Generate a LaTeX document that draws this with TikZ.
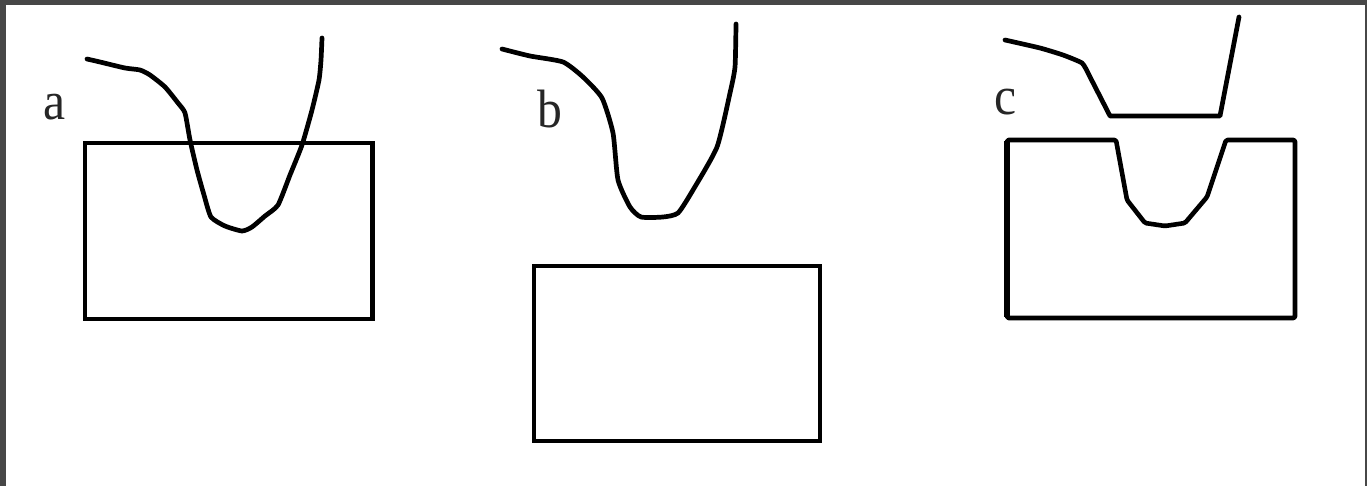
\documentclass[tikz,border=0pt]{standalone}
\usepackage{fontspec}
\setmainfont{Liberation Serif}
\tikzset{
  ink/.style={draw=black,line width=4.7pt,line join=round,line cap=round},
  box/.style={draw=black,line width=4.6pt,line join=miter},
  letter/.style={inner sep=0pt,anchor=base,font=\fontsize{54}{56}\selectfont,text=black!85,xscale=.92},
  edgebar/.style={fill=black!72,draw=none}
}
\begin{document}
\begin{tikzpicture}[x=1pt,y=-1pt]
\useasboundingbox (0,0) rectangle (1367,486);
\fill[white] (0,0) rectangle (1367,486);
\fill[edgebar] (0,0) rectangle (1367,5);
\fill[edgebar] (0,0) rectangle (6,486);
\fill[edgebar] (1365,0) rectangle (1367,486);
% panel a
\draw[box] (85,143) rectangle (372.5,319);
\draw[ink] plot[smooth,tension=.35] coordinates {(87,59) (100,62) (125,68) (140,70) (150,75) (165,87) (178,103) (185,113) (190,140) (197,170) (204,195) (211,217) (225,226) (242,231) (252,227) (265,216) (278,205) (290,175) (302,145) (312,110) (319,80) (321,60) (322,38)};
\node[letter] (la) at (55,120) {a};
% panel b
\draw[box] (534,266) rectangle (820,441);
\draw[ink] plot[smooth,tension=.35] coordinates {(502,49) (530,56) (563,62) (583,77) (602,98) (613,133) (618,180) (630,207) (641,217) (663,217) (678,213) (693,190) (717,147) (730,93) (735,67) (736,24)};
\node[letter] (lb) at (550,128) {b};
% panel c
\draw[ink] plot[smooth,tension=.3] coordinates {(1005,40) (1040,48) (1063,55) (1082,63) (1088,73)} -- (1110,116) -- (1220,116) -- (1239,17);
\draw[box,line join=round,rounded corners=1.5pt] (1007,140) -- (1116,140) -- (1127,200) -- (1145,223) -- (1165,226) -- (1185,223) -- (1207,197) -- (1226,140) -- (1295,140) -- (1295,318) -- (1007,318) -- cycle;
\draw[draw=black,line width=5.6pt] (1007,141) -- (1007,317);
\node[letter] (lc) at (1006,115) {c};
\end{tikzpicture}
\end{document}
